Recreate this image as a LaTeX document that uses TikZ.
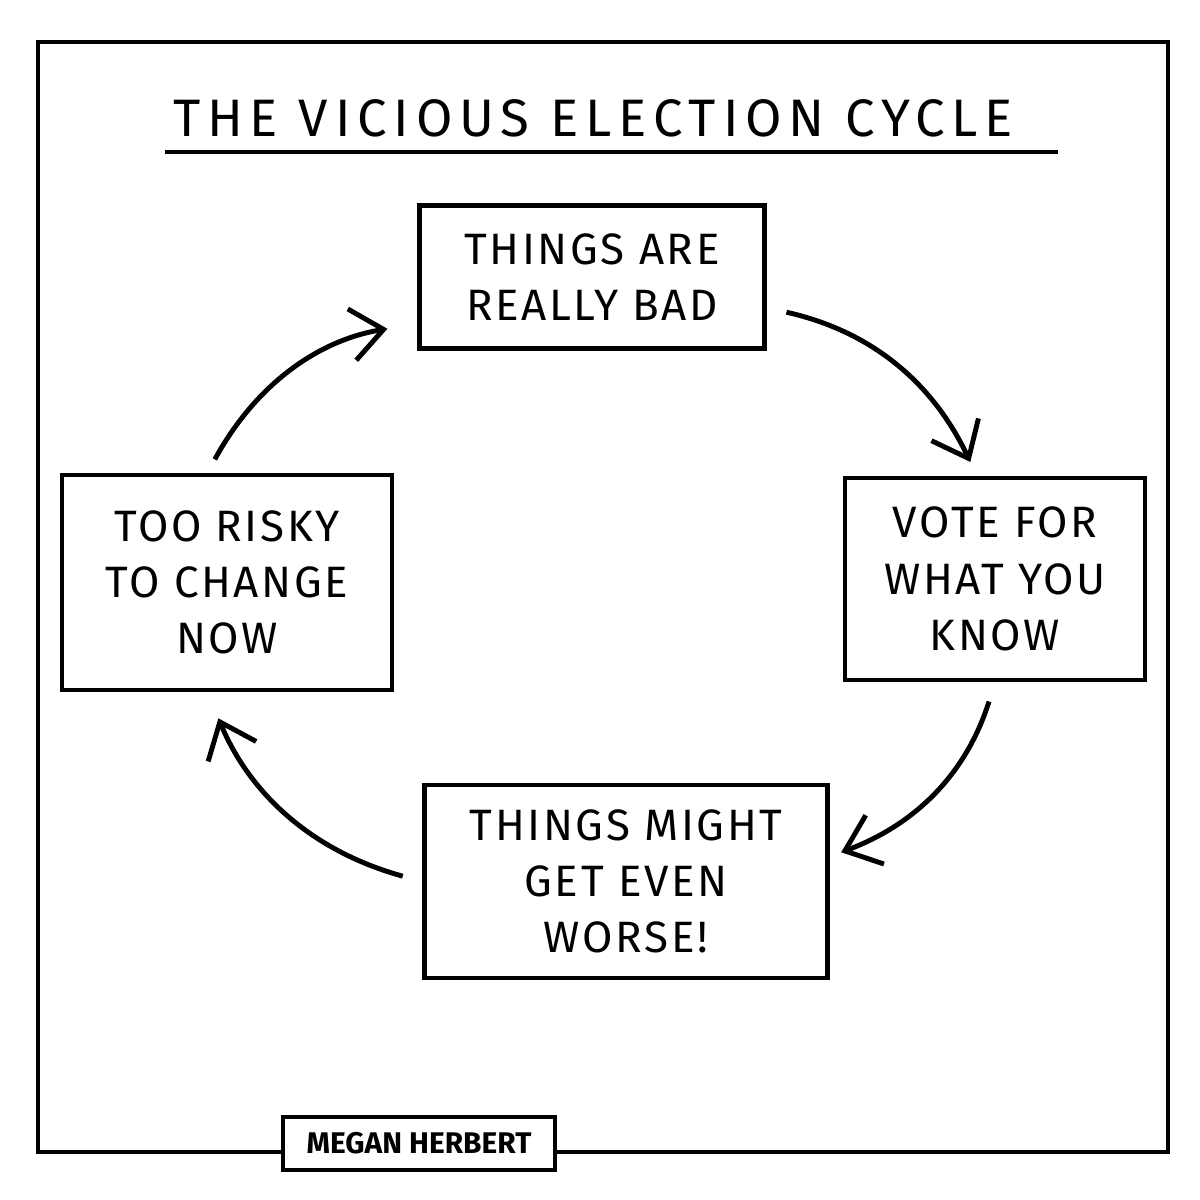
\documentclass[tikz,border=0pt]{standalone}
\usepackage{fontspec}
\setmainfont{Fira Sans}
\usetikzlibrary{arrows.meta, positioning}

\begin{document}
\begin{tikzpicture}[
    box/.style={rectangle, draw, line width=1.4pt, align=center,
                minimum width=#1, font=\fontsize{12.5}{16}\selectfont\addfontfeature{LetterSpace=6}},
    arrow/.style={-{Straight Barb[length=3.2mm, width=5.2mm, line width=1.4pt]},
                  line width=1.4pt, bend left=26},
    frame/.style={line width=1.4pt}
]
\useasboundingbox (0,0) rectangle (12,12);

% heading
\node[font=\fontsize{15}{18}\selectfont\addfontfeature{LetterSpace=13}] (title) at (5.93,10.82) {THE VICIOUS ELECTION CYCLE};
\draw[frame] (1.65,10.48) -- (10.58,10.48);

% the four stages
\node[box=3.45cm, minimum height=1.43cm] (bad) at (5.92,9.23) {THINGS ARE\\REALLY BAD};
\node[box=3.0cm, minimum height=2.02cm] (vote) at (9.95,6.21) {VOTE FOR\\WHAT YOU\\KNOW};
\node[box=4.03cm, minimum height=1.93cm] (worse) at (6.26,3.185) {THINGS MIGHT\\GET EVEN\\WORSE!};
\node[box=3.3cm, minimum height=2.15cm] (risky) at (2.27,6.175) {TOO RISKY\\TO CHANGE\\NOW};

\draw[arrow, shorten <=2mm, shorten >=1.5mm] (bad.-10) to (vote.100);
\draw[arrow, shorten <=2mm, shorten >=1.2mm] (vote.south) to (worse.7);
\draw[arrow, shorten <=2mm, shorten >=2.8mm] (worse.west) to (risky.-100);
\draw[arrow, shorten <=1.5mm, shorten >=3mm] (risky.100) to (bad.195);

% signature on the frame
\node[draw, line width=1.2pt, minimum width=2.72cm, minimum height=0.53cm,
      font=\fontsize{8.5}{10}\selectfont\bfseries] (sig) at (4.19,0.565) {MEGAN HERBERT};
\draw[frame] (sig.west |- 0,0.48) -- (0.38,0.48) -- (0.38,11.58) -- (11.68,11.58)
    -- (11.68,0.48) -- (sig.east |- 0,0.48);

\end{tikzpicture}
\end{document}
